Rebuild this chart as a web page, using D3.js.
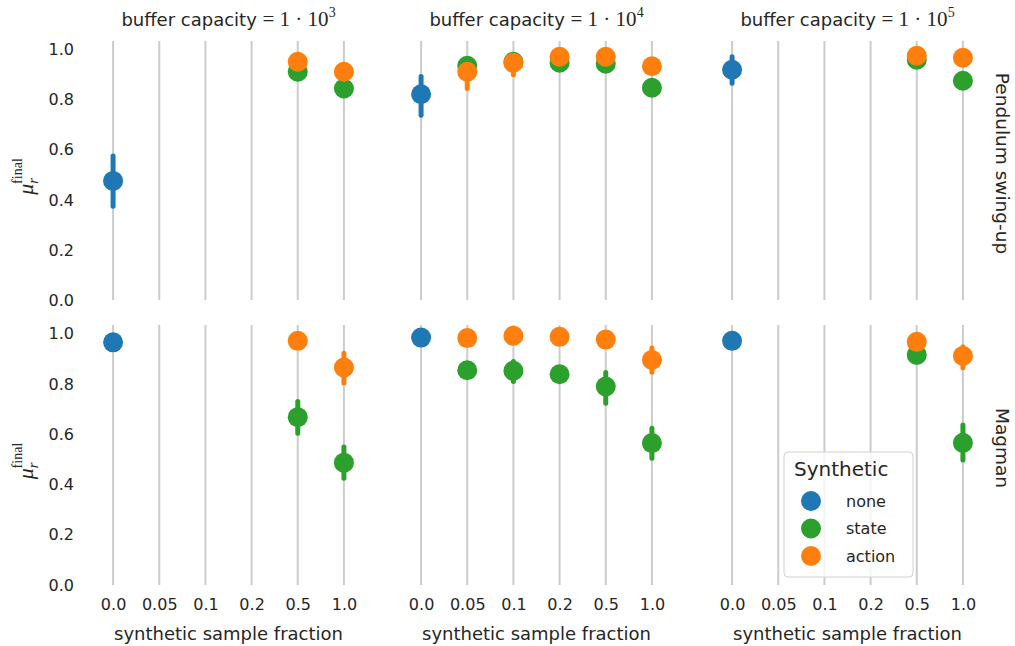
<!DOCTYPE html>
<html>
<head>
<meta charset="utf-8">
<script src="https://cdn.jsdelivr.net/npm/d3@7/dist/d3.min.js"></script>
<style>
  body { margin: 0; background: #fff; }
  text { font-family: "DejaVu Sans", sans-serif; fill: #262626; }
  .math { font-family: "Liberation Serif", "DejaVu Serif", serif; }
</style>
</head>
<body>
<div class="chart"></div>
<script>
var svgWidth = 1015;
var svgHeight = 646;

// categories
var fractions = ["0.0", "0.05", "0.1", "0.2", "0.5", "1.0"];
var capacityExp = ["3", "4", "5"];
var envs = ["Pendulum swing-up", "Magman"];
var synthetic = ["none", "state", "action"];
var colors = ["#1f77b4", "#2ca02c", "#ff7f0e"];
var yTicks = [0, 0.2, 0.4, 0.6, 0.8, 1.0];

// [capacity index, fraction, synthetic, mean, ci low, ci high]
var pendulumPoints = [
  [0, "0.0", "none", 0.476, 0.375, 0.575],
  [0, "0.5", "state", 0.912, 0.905, 0.92],
  [0, "0.5", "action", 0.952, 0.945, 0.96],
  [0, "1.0", "state", 0.845, 0.84, 0.85],
  [0, "1.0", "action", 0.912, 0.905, 0.92],
  [1, "0.0", "none", 0.822, 0.738, 0.893],
  [1, "0.05", "state", 0.936, 0.925, 0.945],
  [1, "0.05", "action", 0.912, 0.845, 0.96],
  [1, "0.1", "state", 0.952, 0.94, 0.96],
  [1, "0.1", "action", 0.948, 0.9, 0.96],
  [1, "0.2", "state", 0.948, 0.94, 0.955],
  [1, "0.2", "action", 0.972, 0.965, 0.98],
  [1, "0.5", "state", 0.944, 0.935, 0.952],
  [1, "0.5", "action", 0.972, 0.965, 0.98],
  [1, "1.0", "state", 0.848, 0.84, 0.855],
  [1, "1.0", "action", 0.934, 0.928, 0.94],
  [2, "0.0", "none", 0.92, 0.866, 0.972],
  [2, "0.5", "state", 0.96, 0.955, 0.965],
  [2, "0.5", "action", 0.976, 0.97, 0.982],
  [2, "1.0", "state", 0.876, 0.87, 0.882],
  [2, "1.0", "action", 0.968, 0.962, 0.974]
];

var magmanPoints = [
  [0, "0.0", "none", 0.966, 0.96, 0.972],
  [0, "0.5", "state", 0.668, 0.604, 0.73],
  [0, "0.5", "action", 0.972, 0.966, 0.978],
  [0, "1.0", "state", 0.487, 0.425, 0.549],
  [0, "1.0", "action", 0.866, 0.804, 0.923],
  [1, "0.0", "none", 0.985, 0.98, 0.99],
  [1, "0.05", "state", 0.855, 0.848, 0.862],
  [1, "0.05", "action", 0.983, 0.977, 0.989],
  [1, "0.1", "state", 0.853, 0.81, 0.89],
  [1, "0.1", "action", 0.992, 0.986, 0.998],
  [1, "0.2", "state", 0.839, 0.832, 0.846],
  [1, "0.2", "action", 0.988, 0.982, 0.994],
  [1, "0.5", "state", 0.79, 0.724, 0.846],
  [1, "0.5", "action", 0.977, 0.97, 0.984],
  [1, "1.0", "state", 0.565, 0.505, 0.624],
  [1, "1.0", "action", 0.896, 0.847, 0.943],
  [2, "0.0", "none", 0.972, 0.966, 0.978],
  [2, "0.5", "state", 0.916, 0.91, 0.922],
  [2, "0.5", "action", 0.968, 0.962, 0.974],
  [2, "1.0", "state", 0.566, 0.498, 0.637],
  [2, "1.0", "action", 0.912, 0.865, 0.948]
];

var rowPoints = [pendulumPoints, magmanPoints];

// layout
var colLeft = [90, 398, 709];
var colWidth = 277;
var rowTop = [41, 325];
var rowBottom = [300, 585];

var svg = d3.select(".chart")
  .append("svg")
  .attr("width", svgWidth)
  .attr("height", svgHeight);

var colorScale = d3.scaleOrdinal().domain(synthetic).range(colors);

var xScales = colLeft.map(function(left) {
  return d3.scalePoint().domain(fractions).range([left, left + colWidth]).padding(0.5);
});

var yScales = rowTop.map(function(top, i) {
  return d3.scaleLinear().domain([0, 1.035]).range([rowBottom[i], top]);
});

// panels
envs.forEach(function(env, r) {
  var y = yScales[r];
  capacityExp.forEach(function(cap, c) {
    var x = xScales[c];
    var g = svg.append("g");

    // vertical grid
    g.selectAll(".grid")
      .data(fractions)
      .enter()
      .append("line")
      .attr("x1", d => x(d))
      .attr("x2", d => x(d))
      .attr("y1", y(0))
      .attr("y2", y(1.035))
      .attr("stroke", "#cccccc")
      .attr("stroke-width", 2);

    var pts = rowPoints[r].filter(d => d[0] === c);

    g.selectAll(".err")
      .data(pts)
      .enter()
      .append("line")
      .attr("x1", d => x(d[1]))
      .attr("x2", d => x(d[1]))
      .attr("y1", d => y(d[4]))
      .attr("y2", d => y(d[5]))
      .attr("stroke", d => colorScale(d[2]))
      .attr("stroke-width", 5)
      .attr("stroke-linecap", "round");

    g.selectAll(".pt")
      .data(pts)
      .enter()
      .append("circle")
      .attr("cx", d => x(d[1]))
      .attr("cy", d => y(d[3]))
      .attr("r", 10)
      .attr("fill", d => colorScale(d[2]));

    // x tick labels on bottom row
    if (r === 1) {
      var ax = g.append("g")
        .attr("transform", `translate(0, ${rowBottom[r] + 6})`)
        .call(d3.axisBottom(x).tickSize(0).tickPadding(8));
      ax.select(".domain").remove();
      ax.selectAll("text").style("font-size", "16px").attr("fill", "#262626").style("font-family", "DejaVu Sans");

      svg.append("text")
        .attr("x", (x.range()[0] + x.range()[1]) / 2)
        .attr("y", 640)
        .attr("text-anchor", "middle")
        .style("font-size", "18px")
        .text("synthetic sample fraction");
    }

    // column titles on top row
    if (r === 0) {
      var t = svg.append("text")
        .attr("x", (x.range()[0] + x.range()[1]) / 2)
        .attr("y", 26)
        .attr("text-anchor", "middle")
        .style("font-size", "18px");
      t.append("tspan").text("buffer capacity ");
      t.append("tspan").attr("class", "math").style("font-size", "21px").text("= 1 \u00b7 10");
      t.append("tspan").attr("class", "math").style("font-size", "14px").attr("dy", -9).text(cap);
    }
  });

  // y axis labels
  var yax = svg.append("g")
    .attr("transform", `translate(74, 0)`)
    .call(d3.axisLeft(y).tickValues(yTicks).tickFormat(d3.format(".1f")).tickSize(0).tickPadding(0));
  yax.select(".domain").remove();
  yax.selectAll("text").style("font-size", "16px").attr("fill", "#262626").style("font-family", "DejaVu Sans");

  // y title mu_r^final
  var cy = (rowTop[r] + rowBottom[r]) / 2 + 6;
  var yt = svg.append("text")
    .attr("transform", `translate(33, ${cy}) rotate(-90)`)
    .attr("text-anchor", "middle")
    .attr("class", "math");
  yt.append("tspan").style("font-style", "italic").style("font-size", "22px").text("\u03bc");
  yt.append("tspan").style("font-style", "italic").style("font-size", "15px").attr("dy", 5).text("r");
  yt.append("tspan").style("font-size", "14px").attr("dx", -6).attr("dy", -16).text("final");

  // row label
  svg.append("text")
    .attr("transform", `translate(996, ${(rowTop[r] + rowBottom[r]) / 2 - 7}) rotate(90)`)
    .attr("text-anchor", "middle")
    .style("font-size", "18.5px")
    .text(env);
});

// legend
var legend = svg.append("g").attr("transform", "translate(784, 452)");
legend.append("rect")
  .attr("width", 129)
  .attr("height", 125)
  .attr("rx", 4)
  .attr("fill", "#ffffff")
  .attr("fill-opacity", 0.8)
  .attr("stroke", "#d0d0d0");
legend.append("text")
  .attr("x", 10)
  .attr("y", 24)
  .style("font-size", "20px")
  .text("Synthetic");
var items = legend.selectAll(".item")
  .data(synthetic)
  .enter()
  .append("g")
  .attr("transform", (d, i) => `translate(0, ${49 + i * 27.5})`);
items.append("circle")
  .attr("cx", 27)
  .attr("r", 10)
  .attr("fill", d => colorScale(d));
items.append("text")
  .attr("x", 62)
  .attr("dy", "0.35em")
  .style("font-size", "16px")
  .text(d => d);
</script>
</body>
</html>
